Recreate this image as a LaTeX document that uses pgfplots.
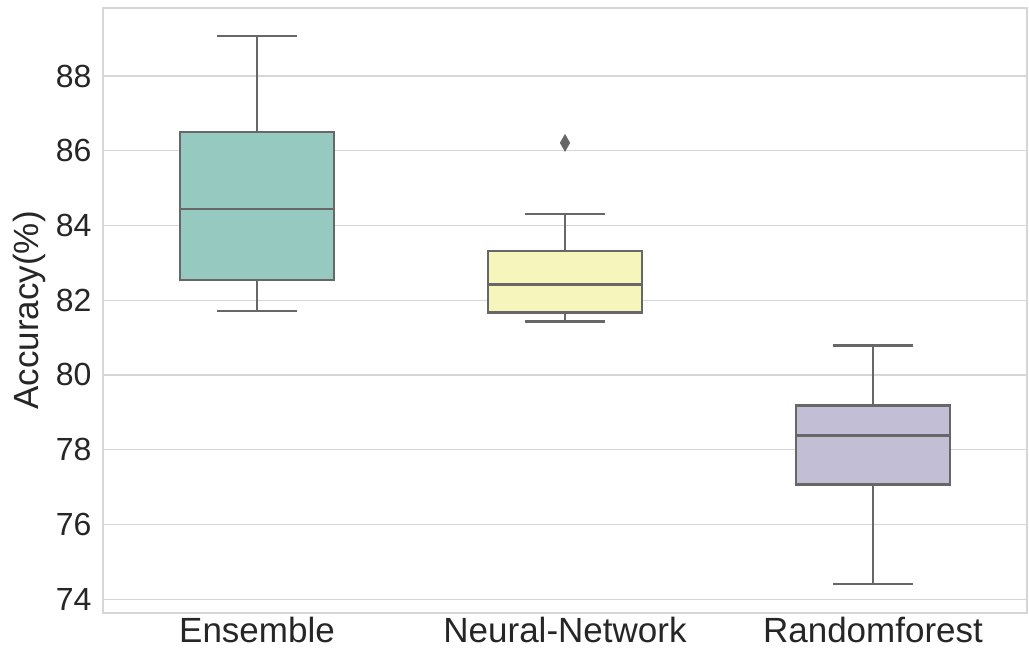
\documentclass[border=0pt]{standalone}
\usepackage{fontspec}
\setmainfont{Liberation Sans}
\usepackage{pgfplots}
\pgfplotsset{compat=1.18}
\usepgfplotslibrary{statistics}
\definecolor{cA}{HTML}{96CAC1}
\definecolor{cB}{HTML}{F6F6BC}
\definecolor{cC}{HTML}{C1BED6}
\definecolor{lg}{HTML}{676767}
\definecolor{gridc}{HTML}{D6D6D6}
\begin{document}
\begin{tikzpicture}
\begin{axis}[
  scale only axis,
  width=924pt, height=605pt,
  xmin=-0.5, xmax=2.5,
  ymin=73.63, ymax=89.82,
  xtick={0,1,2},
  xticklabels={Ensemble,Neural-Network,Randomforest},
  ytick={74,76,78,80,82,84,86,88},
  ymajorgrids,
  major grid style={gridc, line width=1.3pt},
  axis line style={gridc, line width=1.3pt},
  major tick length=0pt,
  yticklabel style={font=\fontsize{32}{36}\selectfont, text=black!85, xshift=-8pt},
  xticklabel style={font=\fontsize{35}{40}\selectfont, text=black!85, yshift=-1pt},
  /pgf/number format/assume math mode=true,
  ylabel={Accuracy(\%)},
  ylabel style={font=\fontsize{35}{40}\selectfont, text=black!85,
    at={(axis description cs:0,0.5)}, anchor=center, yshift=74pt},
  boxplot/draw direction=y,
  boxplot/box extend=0.5,
  boxplot/whisker extend=0.26,
]
\addplot[draw=lg, line width=2.3pt, fill=cA,
  boxplot prepared={lower whisker=81.72, lower quartile=82.55, median=84.45, upper quartile=86.50, upper whisker=89.07, draw position=0}]
  coordinates {};
\addplot[draw=lg, line width=2.3pt, fill=cB,
  boxplot prepared={lower whisker=81.43, lower quartile=81.67, median=82.42, upper quartile=83.32, upper whisker=84.31, draw position=1}]
  coordinates {};
\addplot[draw=lg, line width=2.3pt, fill=cC,
  boxplot prepared={lower whisker=74.40, lower quartile=77.07, median=78.38, upper quartile=79.18, upper whisker=80.79, draw position=2}]
  coordinates {};
\addplot[only marks, mark=diamond*, mark size=8.5pt, mark options={fill=lg, draw=lg, line width=0.5pt, xscale=0.75}] coordinates {(1,86.21)};
\end{axis}
\pgfresetboundingbox
\path (current axis.south west) ++(-103pt,-41pt) rectangle ([xshift=2pt,yshift=8pt]current axis.north east);
\end{tikzpicture}
\end{document}
